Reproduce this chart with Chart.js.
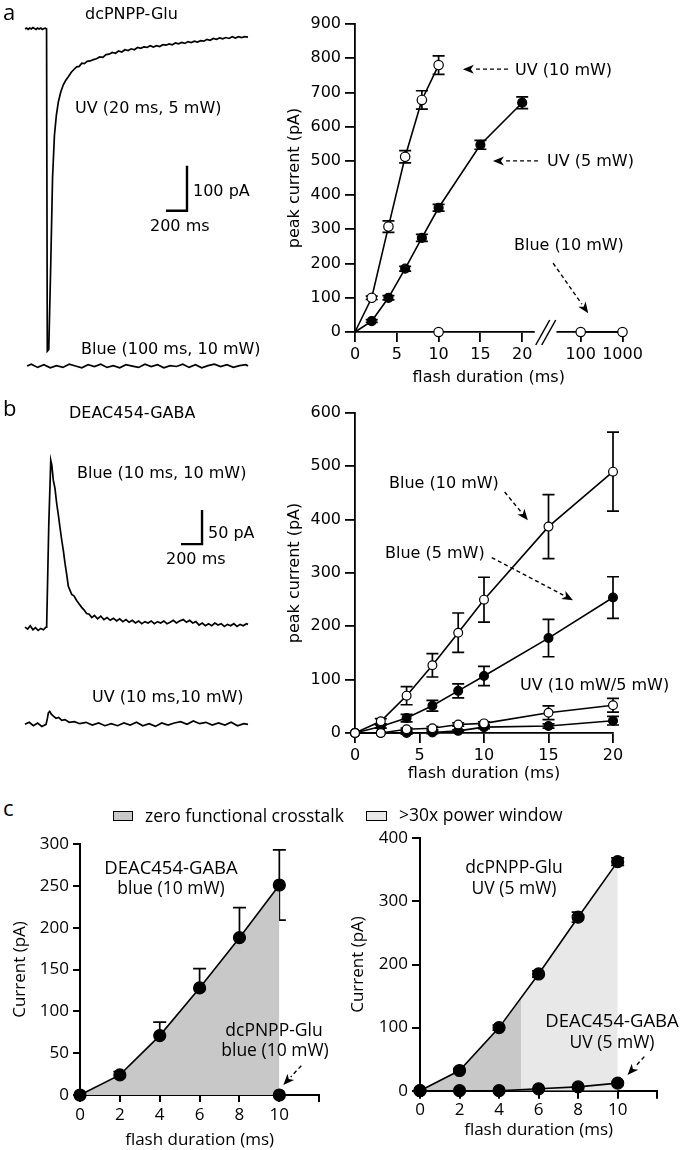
<!DOCTYPE html>
<html lang="en">
<head>
<meta charset="UTF-8">
<title>Two-colour uncaging crosstalk</title>
<script src="https://cdn.jsdelivr.net/npm/chart.js@4"></script>
<style>
  body { margin: 0; background: #fff; }
  #fig { position: relative; width: 682px; height: 1150px; overflow: hidden;
         font-family: "DejaVu Sans", sans-serif; color: #000; }
  #fig canvas { position: absolute; }
  .lbl { position: absolute; white-space: nowrap; line-height: 1; font-size: 16px;
         transform: translateY(-50%); }
  .lbl.mid { transform: translate(-50%, -50%); }
  .os { font-family: "Open Sans", sans-serif; font-size: 17.5px; }
  .panel { font-family: "Open Sans", sans-serif; font-size: 22px; }
  .swatch { position: absolute; border: 1.5px solid #000; box-sizing: border-box; }
</style>
</head>
<body>
<div id="fig">
  <canvas id="traceA" width="270" height="385" style="left:0;top:0"></canvas>
  <canvas id="doseA" width="397" height="400" style="left:285px;top:0"></canvas>
  <canvas id="traceB" width="270" height="330" style="left:0;top:420px"></canvas>
  <canvas id="doseB" width="397" height="390" style="left:285px;top:395px"></canvas>
  <canvas id="cLeft" width="331" height="325" style="left:10px;top:825px"></canvas>
  <canvas id="cRight" width="334" height="330" style="left:348px;top:820px"></canvas>

  <!-- panel a -->
  <div class="lbl panel" style="left:3px;top:11px">a</div>
  <div class="lbl" style="left:85px;top:14px">dcPNPP-Glu</div>
  <div class="lbl" style="left:75px;top:108px">UV (20 ms, 5 mW)</div>
  <div class="lbl" style="left:193px;top:191px">100 pA</div>
  <div class="lbl" style="left:150px;top:226px">200 ms</div>
  <div class="lbl" style="left:81px;top:349px">Blue (100 ms, 10 mW)</div>
  <div class="lbl" style="left:515px;top:70px">UV (10 mW)</div>
  <div class="lbl" style="left:547px;top:161px">UV (5 mW)</div>
  <div class="lbl" style="left:514px;top:245px">Blue (10 mW)</div>

  <!-- panel b -->
  <div class="lbl panel" style="left:3px;top:407px">b</div>
  <div class="lbl" style="left:69px;top:413px">DEAC454-GABA</div>
  <div class="lbl" style="left:77px;top:473px">Blue (10 ms, 10 mW)</div>
  <div class="lbl" style="left:208px;top:533px">50 pA</div>
  <div class="lbl" style="left:166px;top:559px">200 ms</div>
  <div class="lbl" style="left:92px;top:697px">UV (10 ms,10 mW)</div>
  <div class="lbl" style="left:389px;top:483px">Blue (10 mW)</div>
  <div class="lbl" style="left:385px;top:553px">Blue (5 mW)</div>
  <div class="lbl" style="left:520px;top:685px">UV (10 mW/5 mW)</div>

  <!-- panel c -->
  <div class="lbl panel" style="left:3px;top:807px">c</div>
  <div class="swatch" style="left:113px;top:811px;width:20px;height:10px;background:rgb(200,200,200)"></div>
  <div class="lbl os" style="left:145px;top:816px">zero functional crosstalk</div>
  <div class="swatch" style="left:366px;top:811px;width:21px;height:10px;background:rgb(232,232,232)"></div>
  <div class="lbl os" style="left:399px;top:815px">&gt;30x power window</div>
  <div class="lbl os mid" style="left:171px;top:867px;font-size:18.5px">DEAC454-GABA</div>
  <div class="lbl os mid" style="left:171px;top:888px">blue (10 mW)</div>
  <div class="lbl os mid" style="left:274px;top:1030px">dcPNPP-Glu</div>
  <div class="lbl os mid" style="left:275px;top:1050px">blue (10 mW)</div>
  <div class="lbl os mid" style="left:514px;top:867px">dcPNPP-Glu</div>
  <div class="lbl os mid" style="left:514px;top:888px">UV (5 mW)</div>
  <div class="lbl os mid" style="left:612px;top:1020px;font-size:18.5px">DEAC454-GABA</div>
  <div class="lbl os mid" style="left:612px;top:1042px">UV (5 mW)</div>
</div>

<script>
// ---- data: example traces (time in ms, current in pA, inward = negative) ----
const uvTraceA = [[0,0],[15,2],[30,-1],[45,2],[60,0],[75,3],[90,1],[105,-1],[120,2],[135,0],[150,2],[165,-1],[180,1],[195,2],[205,0],
  [212,-716],[226,-712],[245,-520],[262,-330],[280,-236],[298,-192],[317,-162],[340,-140],[364,-124],[388,-114],[412,-106],
  [440,-96],[465,-90],[491,-84],[515,-83],[540,-76],[565,-77],[590,-72],[620,-71],[649,-68],[680,-66],[710,-62],[740,-63],
  [770,-57],[800,-56],[830,-52],[860,-54],[890,-49],[920,-51],[950,-46],[980,-48],[1010,-44],[1040,-46],[1070,-41],[1100,-43],
  [1130,-40],[1160,-41],[1190,-37],[1220,-40],[1250,-37],[1280,-39],[1310,-35],[1340,-36],[1370,-33],[1400,-35],[1430,-31],
  [1460,-33],[1490,-30],[1520,-32],[1550,-28],[1580,-30],[1610,-27],[1640,-29],[1670,-26],[1700,-27],[1730,-23],[1760,-25],
  [1790,-21],[1820,-23],[1850,-20],[1880,-22],[1910,-19],[1940,-21],[1970,-17],[2000,-20],[2030,-17],[2060,-19],[2090,-17],[2120,-18]];
const blueTraceA = [[20,0],[60,4],[120,-3],[180,3],[240,-4],[300,1],[360,-3],[420,4],[480,0],[540,-4],[600,3],[660,-1],[720,4],
  [780,-3],[840,1],[900,-4],[960,3],[1020,0],[1080,-3],[1140,4],[1200,-1],[1260,3],[1320,-4],[1380,1],[1440,-1],[1500,4],
  [1560,-3],[1620,3],[1680,-4],[1740,1],[1800,4],[1860,-1],[1920,3],[1980,-3],[2040,1],[2100,3],[2120,0]];
const scaleBarA = [[1540,-304],[1540,-404],[1340,-404]];   // 100 pA / 200 ms

const blueTraceB = [[0,0],[25,-3],[50,2],[75,-4],[100,-1],[125,-5],[150,-2],[175,-4],[200,0],[206,2],[226,150],[245,245],
  [255,238],[269,216],[285,204],[301,182],[317,165],[333,146],[349,128],[365,112],[380,94],[396,78],[412,60],[428,54],
  [444,48],[465,46],[491,39],[515,34],[539,29],[562,25],[586,20],[610,19],[635,14],[660,17],[690,12],[720,16],[750,11],
  [780,14],[810,10],[840,13],[872,9],[900,12],[930,8],[960,11],[990,7],[1020,10],[1050,6],[1080,9],[1110,5],[1140,8],
  [1170,6],[1200,9],[1230,5],[1260,8],[1290,6],[1320,9],[1350,5],[1380,7],[1410,10],[1440,6],[1470,9],[1505,11],[1535,7],
  [1565,10],[1595,6],[1625,8],[1655,3],[1685,6],[1715,2],[1745,5],[1775,2],[1805,6],[1835,3],[1865,5],[1895,1],[1925,4],
  [1955,2],[1985,5],[2015,1],[2045,4],[2075,2],[2105,5],[2120,4]];
const uvTraceB = [[0,0],[40,3],[80,-2],[120,2],[160,-3],[200,0],[212,8],[222,17],[235,19],[250,15],[270,12],[295,9],[320,10],
  [350,6],[380,7],[420,3],[470,4],[520,1],[580,3],[640,-1],[700,2],[760,-2],[820,1],[880,-2],[940,2],[1000,-1],[1060,3],
  [1120,-2],[1180,1],[1240,-3],[1300,2],[1360,-1],[1420,2],[1480,4],[1540,0],[1600,5],[1660,1],[1720,3],[1780,-1],[1840,2],
  [1900,-1],[1960,3],[2020,-2],[2080,1],[2120,0]];
const scaleBarB = [[1683,172],[1683,122],[1483,122]];      // 50 pA / 200 ms

// ---- data: panel a, peak current vs flash duration ----
const aXTickPos = [0, 5, 10, 15, 20, 27, 32];
const aXTickLabels = ['0', '5', '10', '15', '20', '100', '1000'];
const aYTicks = [0, 100, 200, 300, 400, 500, 600, 700, 800, 900];
const aUv10X = [0, 2, 4, 6, 8, 10];
const aUv10Y = [0, 100, 308, 512, 678, 780];
const aUv10Err = [0, 5, 17, 18, 27, 27];
const aUv5X = [0, 2, 4, 6, 8, 10, 15, 20];
const aUv5Y = [0, 32, 100, 185, 275, 363, 547, 670];
const aUv5Err = [0, 4, 6, 7, 10, 10, 13, 17];
const aBlue10X = [10, 100, 1000];
const aBlue10Y = [0, 0, 0];

// ---- data: panel b ----
const bXTicks = [0, 5, 10, 15, 20];
const bYTicks = [0, 100, 200, 300, 400, 500, 600];
const bX = [0, 2, 4, 6, 8, 10, 15, 20];
const bBlue10Y = [0, 22, 70, 127, 188, 250, 387, 490];
const bBlue10Err = [0, 5, 17, 22, 37, 42, 60, 74];
const bBlue5Y = [0, 12, 28, 51, 79, 107, 178, 254];
const bBlue5Err = [0, 3, 7, 10, 13, 18, 35, 39];
const bUv10Y = [0, 0, 7, 9, 16, 18, 38, 52];
const bUv10Err = [0, 0, 2, 3, 3, 3, 13, 13];
const bUv5Y = [0, 0, 0, 1, 4, 11, 13, 23];
const bUv5Err = [0, 0, 2, 2, 2, 3, 4, 8];

// ---- data: panel c ----
const cXTicks = [0, 2, 4, 6, 8, 10, 12];
const cX = [0, 2, 4, 6, 8, 10];
const cLeftYTicks = [0, 50, 100, 150, 200, 250, 300];
const cGabaBlueY = [0, 24, 71, 128, 188, 251];
const cGabaBlueErr = [0, 4, 16, 23, 36, 42];
const cGluBlueX = [10];
const cGluBlueY = [0];
const cRightYTicks = [0, 100, 200, 300, 400];
const cGluUvY = [0, 32, 100, 185, 275, 363];
const cGluUvErr = [0, 3, 4, 5, 8, 6];
const cGabaUvY = [0, 0, 0, 3, 6, 12];
const cGabaUvErr = [0, 0, 0, 1, 2, 3];
const cRightSplit = 5.1;   // ms where the shading changes tone

const DARK = 'rgb(200,200,200)';
const LIGHT = 'rgb(232,232,232)';

Chart.defaults.font.family = '"DejaVu Sans", sans-serif';
Chart.defaults.font.size = 16;
Chart.defaults.color = '#000';
Chart.defaults.animation = false;
Chart.defaults.responsive = false;
Chart.defaults.plugins.legend.display = false;
Chart.defaults.plugins.tooltip.enabled = false;

// error bars drawn under the markers, from each dataset's "errors" array
const errorBars = {
  id: 'errorBars',
  beforeDatasetsDraw(chart) {
    const ctx = chart.ctx;
    const yScale = chart.scales.y;
    chart.data.datasets.forEach((ds, di) => {
      if (!ds.errors) return;
      const meta = chart.getDatasetMeta(di);
      ctx.save();
      ctx.strokeStyle = '#000';
      ctx.lineWidth = ds.errWidth || 1.7;
      meta.data.forEach((pt, i) => {
        const e = ds.errors[i];
        if (!e) return;
        const v = ds.data[i].y;
        const top = yScale.getPixelForValue(v + e);
        const bot = yScale.getPixelForValue(v - e);
        const cap = ds.capHalf || 6;
        ctx.beginPath();
        ctx.moveTo(pt.x, top); ctx.lineTo(pt.x, bot);
        ctx.moveTo(pt.x - cap, top); ctx.lineTo(pt.x + cap, top);
        ctx.moveTo(pt.x - cap, bot); ctx.lineTo(pt.x + cap, bot);
        ctx.stroke();
      });
      ctx.restore();
    });
  }
};

// dashed annotation arrows, given in data units
const arrows = {
  id: 'arrows',
  afterDatasetsDraw(chart, args, opts) {
    const items = opts.items || [];
    if (!items.length) return;
    const {ctx, scales: {x, y}} = chart;
    items.forEach(a => {
      const x0 = x.getPixelForValue(a.from[0]), y0 = y.getPixelForValue(a.from[1]);
      const x1 = x.getPixelForValue(a.to[0]), y1 = y.getPixelForValue(a.to[1]);
      const ang = Math.atan2(y1 - y0, x1 - x0);
      const head = 11, half = 4.5;
      const bx = x1 - head * Math.cos(ang), by = y1 - head * Math.sin(ang);
      ctx.save();
      ctx.strokeStyle = '#000';
      ctx.fillStyle = '#000';
      ctx.lineWidth = 1.4;
      ctx.setLineDash([4, 3]);
      ctx.beginPath(); ctx.moveTo(x0, y0); ctx.lineTo(bx, by); ctx.stroke();
      ctx.setLineDash([]);
      ctx.beginPath();
      ctx.moveTo(x1, y1);
      ctx.lineTo(bx + half * Math.sin(ang), by - half * Math.cos(ang));
      ctx.lineTo(bx + 3 * Math.cos(ang), by + 3 * Math.sin(ang));
      ctx.lineTo(bx - half * Math.sin(ang), by + half * Math.cos(ang));
      ctx.closePath();
      ctx.fill();
      ctx.restore();
    });
  }
};
Chart.register(errorBars, arrows);

function pts(xs, ys) { return xs.map((x, i) => ({x, y: ys[i]})); }
function tracePts(pairs, offset) { return pairs.map(p => ({x: p[0], y: p[1] + (offset || 0)})); }

function series(xs, ys, errs, open, r, extra) {
  return Object.assign({
    data: pts(xs, ys),
    errors: errs,
    borderColor: '#000',
    borderWidth: 1.6,
    pointRadius: r,
    pointBackgroundColor: open ? '#fff' : '#000',
    pointBorderColor: '#000',
    pointBorderWidth: 1.2,
    tension: 0,
    clip: false
  }, extra || {});
}

function frameScales(p) {
  const font = {family: p.family, size: p.size};
  const grid = {drawOnChartArea: false, drawTicks: true, tickLength: p.tickLen, color: '#000', lineWidth: p.lw};
  const border = {color: '#000', width: p.lw};
  return {
    x: {
      type: 'linear', min: p.xMin, max: p.xMax,
      afterBuildTicks: s => { s.ticks = p.xTicks.map(v => ({value: v})); },
      afterFit: s => { s.height = p.hX; },
      ticks: {font, padding: p.xPad, maxRotation: 0, autoSkip: false, callback: (v, i) => p.xLabels[i]},
      grid, border,
      title: {display: true, text: 'flash duration (ms)', font, padding: 0}
    },
    y: {
      type: 'linear', min: p.yMin, max: p.yMax,
      afterBuildTicks: s => { s.ticks = p.yTicks.map(v => ({value: v})); },
      afterFit: s => { s.width = p.wY; },
      ticks: {font, padding: p.yPad, autoSkip: false, callback: v => String(v)},
      grid, border,
      title: {display: true, text: p.yTitle, font, padding: 0}
    }
  };
}

function traceScales(xMax, yMin, yMax) {
  return {
    x: {type: 'linear', display: false, min: 0, max: xMax},
    y: {type: 'linear', display: false, min: yMin, max: yMax}
  };
}
function line(data, w) {
  return {data, borderColor: '#000', borderWidth: w || 1.7, pointRadius: 0, tension: 0, clip: false};
}

// ---- a, left: example traces ----
new Chart(document.getElementById('traceA'), {
  type: 'line',
  data: {datasets: [
    line(tracePts(uvTraceA)),
    line(tracePts(blueTraceA, -749)),
    line(tracePts(scaleBarA), 2.4)
  ]},
  options: {
    devicePixelRatio: 1,
    layout: {padding: {left: 25, right: 22, top: 11, bottom: 14}},
    scales: traceScales(2120, -760, 40)
  }
});

// ---- a, right: dose response with broken x axis ----
const aPos = v => v <= 20 ? v : aXTickPos[aXTickLabels.indexOf(String(v))];
const aBreakFrom = 21.5, aBreakTo = 24.1;
const axisBreak = {
  id: 'axisBreak',
  afterDraw(chart) {
    const {ctx, scales: {x, y}} = chart;
    const yb = y.getPixelForValue(0);
    const a = x.getPixelForValue(aBreakFrom), b = x.getPixelForValue(aBreakTo);
    ctx.save();
    ctx.fillStyle = '#fff';
    ctx.fillRect(a, yb - 3, b - a, 6);
    ctx.strokeStyle = '#000';
    ctx.lineWidth = 1.5;
    [0, 6].forEach(d => {
      ctx.beginPath();
      ctx.moveTo(a + 1 + d, yb + 13);
      ctx.lineTo(a + 15 + d, yb - 12);
      ctx.stroke();
    });
    ctx.restore();
  }
};
new Chart(document.getElementById('doseA'), {
  type: 'line',
  data: {datasets: [
    series(aUv10X, aUv10Y, aUv10Err, true, [0, 4.7, 4.7, 4.7, 4.7, 4.7]),
    series(aBlue10X.map(aPos), aBlue10Y, null, true, 4.7,
      {segment: {borderColor: c => c.p0DataIndex === 0 ? 'rgba(0,0,0,0)' : '#000'}}),
    series(aUv5X, aUv5Y, aUv5Err, false, [0, 4.5, 4.5, 4.5, 4.5, 4.5, 4.5, 4.5])
  ]},
  options: {
    devicePixelRatio: 1,
    layout: {padding: {left: 0, right: 59.5, top: 24, bottom: 13}},
    scales: frameScales({
      family: '"DejaVu Sans", sans-serif', size: 16, tickLen: 10, lw: 1.8,
      xMin: 0, xMax: 32, xTicks: aXTickPos, xLabels: aXTickLabels, xPad: 3, hX: 55,
      yMin: 0, yMax: 900, yTicks: aYTicks, yPad: 4, wY: 70, yTitle: 'peak current (pA)'
    }),
    plugins: {arrows: {items: [
      {from: [18.3, 768], to: [12.9, 768]},
      {from: [21.9, 500], to: [16.5, 500]},
      {from: [23.7, 201], to: [27.9, 55]}
    ]}}
  },
  plugins: [axisBreak]
});

// ---- b, left: example traces ----
new Chart(document.getElementById('traceB'), {
  type: 'line',
  data: {datasets: [
    line(tracePts(blueTraceB)),
    line(tracePts(uvTraceB, -143)),
    line(tracePts(scaleBarB), 2.4)
  ]},
  options: {
    devicePixelRatio: 1,
    layout: {padding: {left: 25, right: 22, top: 20, bottom: 10}},
    scales: traceScales(2120, -166, 275)
  }
});

// ---- b, right ----
new Chart(document.getElementById('doseB'), {
  type: 'line',
  data: {datasets: [
    series(bX, bBlue10Y, bBlue10Err, true, 4.4),
    series(bX, bUv10Y, bUv10Err, true, 4.4),
    series(bX, bBlue5Y, bBlue5Err, false, 4.4),
    series(bX, bUv5Y, bUv5Err, false, 4.4)
  ]},
  options: {
    devicePixelRatio: 1,
    layout: {padding: {left: 0, right: 69, top: 18, bottom: 2}},
    scales: frameScales({
      family: '"DejaVu Sans", sans-serif', size: 16, tickLen: 10, lw: 1.8,
      xMin: 0, xMax: 20, xTicks: bXTicks, xLabels: bXTicks.map(String), xPad: 3, hX: 50,
      yMin: 0, yMax: 600, yTicks: bYTicks, yPad: 4, wY: 70, yTitle: 'peak current (pA)'
    }),
    plugins: {arrows: {items: [
      {from: [11.6, 452], to: [13.4, 399]},
      {from: [10.6, 329], to: [16.9, 249]}
    ]}}
  }
});

// ---- c, left ----
const cLabels = cXTicks.map(v => v === 12 ? '' : String(v));
new Chart(document.getElementById('cLeft'), {
  type: 'line',
  data: {datasets: [
    series(cGluBlueX, cGluBlueY, null, false, 6, {showLine: false}),
    series(cX, cGabaBlueY, cGabaBlueErr, false, 6, {fill: 'origin', backgroundColor: DARK, capHalf: 6.5})
  ]},
  options: {
    devicePixelRatio: 1,
    layout: {padding: {left: 0, right: 21.8, top: 19, bottom: 0}},
    scales: frameScales({
      family: '"Open Sans", sans-serif', size: 17, tickLen: 7, lw: 2,
      xMin: 0, xMax: 12, xTicks: cXTicks, xLabels: cLabels, xPad: 3, hX: 55,
      yMin: 0, yMax: 300, yTicks: cLeftYTicks, yPad: 4, wY: 70, yTitle: 'Current (pA)'
    }),
    plugins: {arrows: {items: [{from: [11.1, 35], to: [10.2, 12]}]}}
  }
});

// ---- c, right ----
function splitFill(c) {
  const chart = c.chart;
  if (!chart.chartArea) return LIGHT;
  const xs = chart.scales.x;
  const x0 = xs.getPixelForValue(cX[0]), x1 = xs.getPixelForValue(cX[cX.length - 1]);
  const g = chart.ctx.createLinearGradient(x0, 0, x1, 0);
  const f = (cRightSplit - cX[0]) / (cX[cX.length - 1] - cX[0]);
  g.addColorStop(0, DARK); g.addColorStop(f, DARK);
  g.addColorStop(f, LIGHT); g.addColorStop(1, LIGHT);
  return g;
}
new Chart(document.getElementById('cRight'), {
  type: 'line',
  data: {datasets: [
    series(cX, cGabaUvY, cGabaUvErr, false, 6),
    series(cX, cGluUvY, cGluUvErr, false, 6, {fill: 'origin', backgroundColor: splitFill, capHalf: 6.5})
  ]},
  options: {
    devicePixelRatio: 1,
    layout: {padding: {left: 0, right: 24.8, top: 18.3, bottom: 9.3}},
    scales: frameScales({
      family: '"Open Sans", sans-serif', size: 17, tickLen: 8, lw: 2,
      xMin: 0, xMax: 12, xTicks: cXTicks, xLabels: cLabels, xPad: 1, hX: 50,
      yMin: 0, yMax: 400, yTicks: cRightYTicks, yPad: 4, wY: 72, yTitle: 'Current (pA)'
    }),
    plugins: {arrows: {items: [{from: [11.35, 54], to: [10.5, 25]}]}}
  }
});
</script>
</body>
</html>
